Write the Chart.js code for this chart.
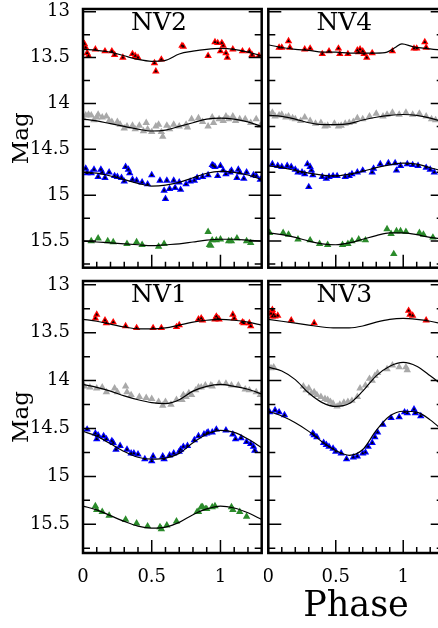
<!DOCTYPE html>
<html>
<head>
<meta charset="utf-8">
<script src="https://cdn.jsdelivr.net/npm/chart.js@4.4.0/dist/chart.umd.min.js"></script>
<style>
  html, body { margin: 0; padding: 0; background: #fff; overflow: hidden; }
  body { width: 438px; height: 628px; position: relative; }
  canvas { position: absolute; }
</style>
</head>
<body>
<canvas id="nv2"></canvas>
<canvas id="nv4"></canvas>
<canvas id="nv1"></canvas>
<canvas id="nv3"></canvas>
<script>
// tick values
const magMajor = [13, 13.5, 14, 14.5, 15, 15.5];
const magMinor = [13.25, 13.75, 14.25, 14.75, 15.25, 15.75];
const phaseMajor = [0, 0.5, 1];
const phaseMinor = [0.1, 0.2, 0.3, 0.4, 0.6, 0.7, 0.8, 0.9, 1.1, 1.2];

// NV2  [phase, mag]
const nv2Red = [[0.01,13.35],[0.02,13.39],[0.03,13.45],[0.04,13.48],[0.09,13.41],[0.16,13.43],[0.21,13.43],[0.23,13.47],[0.29,13.50],[0.36,13.46],[0.38,13.48],[0.40,13.50],[0.52,13.56],[0.53,13.65],[0.57,13.52],[0.72,13.37],[0.73,13.38],[0.91,13.48],[0.96,13.33],[0.98,13.34],[1.00,13.43],[1.01,13.34],[1.02,13.37],[1.04,13.45],[1.05,13.50],[1.09,13.41],[1.16,13.43],[1.21,13.43],[1.23,13.47],[1.28,13.48]];
const nv2RedFit = [[0,13.41],[0.1,13.42],[0.2,13.44],[0.3,13.48],[0.4,13.52],[0.5,13.54],[0.6,13.53],[0.7,13.46],[0.8,13.43],[0.9,13.41],[1.0,13.40],[1.1,13.41],[1.2,13.44],[1.3,13.48]];
const nv2Gray = [[0.00,14.16],[0.02,14.13],[0.04,14.12],[0.06,14.13],[0.08,14.18],[0.10,14.15],[0.11,14.12],[0.14,14.15],[0.17,14.14],[0.19,14.19],[0.21,14.20],[0.25,14.20],[0.27,14.23],[0.30,14.27],[0.32,14.25],[0.36,14.24],[0.38,14.28],[0.41,14.24],[0.44,14.30],[0.46,14.21],[0.47,14.28],[0.50,14.31],[0.53,14.25],[0.55,14.23],[0.57,14.31],[0.58,14.36],[0.61,14.24],[0.63,14.28],[0.66,14.23],[0.70,14.25],[0.75,14.23],[0.76,14.26],[0.79,14.17],[0.84,14.16],[0.87,14.20],[0.91,14.25],[0.94,14.15],[0.95,14.21],[0.99,14.17],[1.02,14.19],[1.04,14.14],[1.06,14.17],[1.09,14.14],[1.11,14.19],[1.14,14.17],[1.18,14.17],[1.22,14.21],[1.26,14.17],[1.29,14.24]];
const nv2GrayFit = [[0,14.17],[0.1,14.19],[0.2,14.22],[0.3,14.25],[0.4,14.28],[0.5,14.30],[0.6,14.29],[0.7,14.25],[0.8,14.21],[0.9,14.17],[1.0,14.16],[1.1,14.17],[1.2,14.20],[1.3,14.25]];
const nv2Blue = [[0.02,14.71],[0.03,14.76],[0.06,14.76],[0.08,14.72],[0.11,14.80],[0.13,14.72],[0.14,14.75],[0.16,14.81],[0.19,14.75],[0.23,14.79],[0.25,14.80],[0.28,14.81],[0.30,14.85],[0.31,14.69],[0.33,14.72],[0.34,14.76],[0.36,14.83],[0.39,14.84],[0.43,14.86],[0.47,14.88],[0.50,14.78],[0.56,14.84],[0.59,14.95],[0.60,15.04],[0.61,14.84],[0.63,14.93],[0.66,14.84],[0.67,14.92],[0.70,14.86],[0.71,14.94],[0.75,14.88],[0.78,14.85],[0.81,14.84],[0.83,14.81],[0.87,14.80],[0.91,14.78],[0.94,14.67],[0.95,14.68],[0.96,14.69],[0.98,14.79],[1.00,14.68],[1.02,14.73],[1.04,14.77],[1.07,14.75],[1.08,14.73],[1.12,14.81],[1.13,14.72],[1.14,14.75],[1.17,14.82],[1.19,14.75],[1.24,14.78],[1.26,14.79],[1.29,14.83]];
const nv2BlueFit = [[0,14.75],[0.1,14.76],[0.2,14.79],[0.3,14.83],[0.4,14.87],[0.5,14.90],[0.6,14.89],[0.7,14.86],[0.8,14.81],[0.9,14.76],[1.0,14.74],[1.1,14.75],[1.2,14.78],[1.3,14.83]];
const nv2Green = [[0.06,15.50],[0.11,15.47],[0.18,15.50],[0.22,15.51],[0.32,15.53],[0.39,15.51],[0.43,15.54],[0.55,15.56],[0.59,15.53],[0.91,15.40],[0.92,15.54],[0.93,15.55],[0.94,15.49],[0.97,15.49],[1.00,15.48],[1.06,15.50],[1.08,15.50],[1.12,15.47],[1.19,15.50],[1.22,15.52]];
const nv2GreenFit = [[0,15.50],[0.1,15.51],[0.2,15.52],[0.3,15.53],[0.4,15.54],[0.5,15.55],[0.6,15.54],[0.7,15.53],[0.8,15.51],[0.9,15.49],[1.0,15.48],[1.1,15.48],[1.2,15.49],[1.3,15.50]];

// NV4
const nv4Red = [[0.08,13.39],[0.10,13.39],[0.15,13.32],[0.16,13.39],[0.27,13.41],[0.31,13.40],[0.40,13.46],[0.45,13.43],[0.52,13.40],[0.53,13.46],[0.59,13.46],[0.66,13.42],[0.67,13.44],[0.68,13.41],[0.70,13.43],[0.71,13.46],[0.73,13.50],[0.77,13.45],[0.92,13.43],[1.08,13.40],[1.10,13.40],[1.16,13.33],[1.17,13.39]];
const nv4RedFit = [[0,13.36],[0.1,13.39],[0.2,13.41],[0.3,13.42],[0.4,13.44],[0.5,13.44],[0.6,13.45],[0.7,13.45],[0.8,13.45],[0.88,13.44],[0.94,13.39],[0.99,13.35],[1.07,13.38],[1.16,13.40],[1.3,13.42]];
const nv4Gray = [[0.01,14.12],[0.03,14.10],[0.05,14.14],[0.08,14.13],[0.10,14.12],[0.13,14.15],[0.15,14.14],[0.18,14.16],[0.20,14.17],[0.24,14.19],[0.27,14.15],[0.31,14.19],[0.35,14.22],[0.39,14.21],[0.42,14.25],[0.44,14.24],[0.49,14.22],[0.52,14.25],[0.54,14.24],[0.57,14.22],[0.60,14.21],[0.63,14.20],[0.66,14.16],[0.70,14.17],[0.75,14.14],[0.80,14.11],[0.85,14.14],[0.88,14.12],[0.92,14.10],[0.97,14.12],[1.02,14.10],[1.07,14.12],[1.12,14.11],[1.17,14.14],[1.21,14.17],[1.24,14.18]];
const nv4GrayFit = [[0,14.13],[0.1,14.14],[0.2,14.17],[0.3,14.21],[0.4,14.23],[0.5,14.23],[0.6,14.22],[0.7,14.18],[0.8,14.15],[0.9,14.13],[1.0,14.12],[1.1,14.13],[1.2,14.16],[1.3,14.20]];
const nv4Blue = [[0.03,14.66],[0.07,14.68],[0.10,14.69],[0.14,14.68],[0.17,14.69],[0.20,14.72],[0.22,14.75],[0.25,14.75],[0.27,14.77],[0.29,14.66],[0.30,14.91],[0.31,14.69],[0.32,14.73],[0.33,14.78],[0.40,14.80],[0.43,14.82],[0.45,14.80],[0.48,14.79],[0.51,14.79],[0.57,14.80],[0.60,14.79],[0.62,14.77],[0.66,14.75],[0.70,14.73],[0.77,14.75],[0.78,14.71],[0.83,14.66],[0.89,14.65],[0.94,14.65],[0.95,14.73],[0.98,14.68],[1.03,14.66],[1.07,14.67],[1.11,14.68],[1.17,14.70],[1.20,14.72],[1.23,14.75]];
const nv4BlueFit = [[0,14.68],[0.1,14.70],[0.2,14.73],[0.3,14.76],[0.4,14.78],[0.5,14.79],[0.6,14.77],[0.7,14.74],[0.8,14.70],[0.9,14.67],[1.0,14.65],[1.1,14.66],[1.2,14.70],[1.3,14.74]];
const nv4Green = [[0.01,15.41],[0.11,15.41],[0.15,15.43],[0.22,15.48],[0.31,15.49],[0.38,15.53],[0.44,15.54],[0.55,15.54],[0.59,15.53],[0.62,15.50],[0.67,15.48],[0.72,15.49],[0.88,15.37],[0.91,15.42],[0.93,15.64],[0.95,15.39],[0.98,15.39],[1.02,15.40],[1.12,15.41],[1.15,15.43],[1.22,15.46]];
const nv4GreenFit = [[0,15.41],[0.1,15.43],[0.2,15.46],[0.3,15.50],[0.4,15.53],[0.5,15.54],[0.6,15.52],[0.7,15.48],[0.8,15.44],[0.9,15.41],[1.0,15.41],[1.1,15.43],[1.2,15.46],[1.3,15.48]];

// NV1
const nv1Red = [[0.09,13.35],[0.10,13.31],[0.16,13.37],[0.17,13.40],[0.22,13.39],[0.31,13.43],[0.39,13.45],[0.51,13.45],[0.57,13.45],[0.68,13.44],[0.70,13.42],[0.84,13.36],[0.86,13.35],[0.87,13.37],[0.96,13.36],[0.97,13.33],[0.98,13.35],[0.99,13.36],[1.09,13.31],[1.10,13.35],[1.16,13.39],[1.17,13.40],[1.21,13.40],[1.22,13.43]];
const nv1RedFit = [[0,13.36],[0.1,13.38],[0.2,13.41],[0.3,13.44],[0.4,13.46],[0.5,13.46],[0.6,13.45],[0.7,13.42],[0.8,13.39],[0.9,13.37],[1.0,13.36],[1.1,13.37],[1.2,13.39],[1.3,13.42]];
const nv1Gray = [[0.01,14.06],[0.05,14.07],[0.10,14.08],[0.14,14.07],[0.17,14.12],[0.23,14.08],[0.25,14.12],[0.31,14.06],[0.32,14.12],[0.35,14.15],[0.41,14.17],[0.46,14.18],[0.50,14.19],[0.55,14.22],[0.58,14.26],[0.60,14.22],[0.64,14.25],[0.68,14.20],[0.72,14.20],[0.73,14.15],[0.75,14.17],[0.77,14.13],[0.79,14.15],[0.82,14.10],[0.84,14.07],[0.86,14.07],[0.89,14.05],[0.93,14.05],[0.94,14.06],[0.99,14.03],[1.04,14.03],[1.08,14.05],[1.13,14.05],[1.18,14.09],[1.21,14.10],[1.26,14.12],[1.29,14.15]];
const nv1GrayFit = [[0,14.04],[0.1,14.07],[0.2,14.11],[0.3,14.16],[0.4,14.20],[0.5,14.23],[0.6,14.24],[0.7,14.20],[0.8,14.11],[0.9,14.06],[1.0,14.04],[1.1,14.06],[1.2,14.09],[1.3,14.14]];
const nv1Blue = [[0.03,14.51],[0.09,14.55],[0.10,14.61],[0.11,14.57],[0.15,14.58],[0.17,14.61],[0.21,14.63],[0.22,14.65],[0.24,14.72],[0.27,14.68],[0.32,14.72],[0.35,14.76],[0.37,14.76],[0.40,14.77],[0.45,14.82],[0.50,14.84],[0.51,14.79],[0.58,14.79],[0.59,14.82],[0.63,14.78],[0.66,14.76],[0.70,14.74],[0.71,14.72],[0.73,14.69],[0.76,14.68],[0.81,14.62],[0.84,14.58],[0.88,14.56],[0.90,14.55],[0.91,14.54],[0.94,14.54],[0.97,14.51],[1.04,14.52],[1.09,14.56],[1.11,14.61],[1.15,14.60],[1.19,14.64],[1.22,14.66],[1.24,14.69],[1.25,14.73]];
const nv1BlueFit = [[0,14.53],[0.1,14.58],[0.2,14.66],[0.3,14.74],[0.4,14.80],[0.5,14.82],[0.6,14.81],[0.7,14.76],[0.8,14.65],[0.9,14.56],[1.0,14.52],[1.1,14.54],[1.2,14.61],[1.3,14.70]];
const nv1Green = [[0.09,15.31],[0.10,15.35],[0.14,15.37],[0.19,15.41],[0.31,15.45],[0.39,15.49],[0.47,15.52],[0.56,15.53],[0.57,15.55],[0.61,15.51],[0.68,15.47],[0.83,15.37],[0.84,15.37],[0.86,15.32],[0.87,15.32],[0.89,15.34],[0.90,15.34],[0.94,15.32],[0.96,15.31],[1.08,15.32],[1.09,15.35],[1.14,15.37],[1.19,15.42]];
const nv1GreenFit = [[0,15.31],[0.1,15.35],[0.2,15.41],[0.3,15.47],[0.4,15.52],[0.5,15.54],[0.6,15.53],[0.7,15.48],[0.8,15.40],[0.9,15.34],[1.0,15.31],[1.1,15.33],[1.2,15.38],[1.3,15.45]];

// NV3
const nv3Red = [[0.02,13.30],[0.03,13.26],[0.03,13.33],[0.04,13.31],[0.05,13.33],[0.07,13.32],[0.17,13.37],[0.34,13.40],[1.04,13.27],[1.05,13.31],[1.07,13.32],[1.17,13.37]];
const nv3RedFit = [[0,13.36],[0.1,13.38],[0.2,13.40],[0.3,13.42],[0.4,13.44],[0.5,13.45],[0.6,13.45],[0.7,13.43],[0.8,13.39],[0.9,13.36],[1.0,13.35],[1.1,13.36],[1.2,13.38],[1.3,13.41]];
const nv3Gray = [[0.02,13.87],[0.04,13.86],[0.26,14.06],[0.28,14.10],[0.30,14.08],[0.32,14.13],[0.34,14.12],[0.36,14.15],[0.39,14.17],[0.42,14.19],[0.44,14.20],[0.46,14.22],[0.48,14.24],[0.51,14.27],[0.53,14.25],[0.56,14.23],[0.59,14.22],[0.62,14.21],[0.66,14.17],[0.68,14.08],[0.72,14.05],[0.75,13.98],[0.77,14.00],[0.79,13.95],[0.81,13.92],[0.88,13.88],[0.92,13.84],[0.97,13.86],[1.02,13.86],[1.03,13.89]];
const nv3GrayFit = [[0,13.86],[0.1,13.90],[0.2,13.99],[0.3,14.13],[0.4,14.23],[0.5,14.27],[0.6,14.24],[0.7,14.11],[0.8,13.95],[0.9,13.85],[1.0,13.81],[1.1,13.85],[1.2,13.95],[1.3,14.06]];
const nv3Blue = [[0.01,14.33],[0.05,14.31],[0.08,14.33],[0.12,14.36],[0.33,14.55],[0.34,14.57],[0.36,14.59],[0.41,14.65],[0.43,14.67],[0.45,14.69],[0.48,14.71],[0.50,14.74],[0.54,14.76],[0.58,14.82],[0.63,14.80],[0.66,14.79],[0.70,14.76],[0.72,14.75],[0.74,14.69],[0.77,14.65],[0.79,14.59],[0.81,14.54],[0.85,14.46],[0.91,14.39],[0.97,14.38],[1.01,14.33],[1.03,14.34],[1.08,14.30],[1.09,14.34],[1.13,14.37]];
const nv3BlueFit = [[0,14.32],[0.1,14.37],[0.2,14.44],[0.3,14.53],[0.4,14.64],[0.5,14.73],[0.6,14.78],[0.7,14.72],[0.8,14.52],[0.9,14.37],[1.0,14.32],[1.1,14.33],[1.2,14.41],[1.3,14.53]];

const RED = '#ff0000', GRAY = '#a9a9a9', BLUE = '#0000ff', GREEN = '#2b8b2b';
const serif = '"DejaVu Serif", "Liberation Serif", serif';

function series(points, fit, color, core) {
    const pts = points.map(p => ({ x: p[0], y: p[1] }));
    const sets = [{
        data: pts, pointStyle: 'triangle', pointRadius: 4.3,
        backgroundColor: color, borderWidth: 0, order: 3
    }];
    if (core) {
        sets.push({
            data: pts, pointStyle: 'triangle', pointRadius: 1.8,
            backgroundColor: '#000', borderWidth: 0, order: 2
        });
    }
    sets.push({
        data: fit.map(p => ({ x: p[0], y: p[1] })), showLine: true, pointRadius: 0,
        borderColor: '#000', borderWidth: 1.2, cubicInterpolationMode: 'monotone', order: 1
    });
    return sets;
}

// frame, inward ticks and panel name
const framePlugin = {
    id: 'panelFrame',
    afterDatasetsDraw(chart, args, opts) {
        const { ctx, chartArea: a } = chart;
        const x = chart.scales.x, y = chart.scales.y;
        ctx.save();
        ctx.strokeStyle = '#000';
        ctx.lineWidth = 1.5;
        ctx.beginPath();
        magMajor.concat(magMinor).forEach(v => {
            const len = magMajor.includes(v) ? 13 : 7;
            const py = y.getPixelForValue(v);
            ctx.moveTo(a.left, py); ctx.lineTo(a.left + len, py);
            ctx.moveTo(a.right, py); ctx.lineTo(a.right - len, py);
        });
        phaseMajor.concat(phaseMinor).forEach(v => {
            const len = phaseMajor.includes(v) ? 13 : 6;
            const px = x.getPixelForValue(v);
            ctx.moveTo(px, a.bottom); ctx.lineTo(px, a.bottom - len);
        });
        ctx.stroke();
        ctx.lineWidth = 2.5;
        ctx.strokeRect(a.left, a.top, a.right - a.left, a.bottom - a.top);
        ctx.fillStyle = '#000';
        ctx.font = '25px ' + serif;
        ctx.textAlign = 'center';
        ctx.textBaseline = 'middle';
        ctx.fillText(opts.label, a.left + 76, a.top + 14);
        ctx.restore();
    }
};

function makePanel(id, box, label, sets, o) {
    const cv = document.getElementById(id);
    cv.width = box.w; cv.height = box.h;
    cv.style.left = box.x + 'px'; cv.style.top = box.y + 'px';
    new Chart(cv, {
        type: 'scatter',
        data: { datasets: sets },
        options: {
            responsive: false, animation: false, events: [],
            layout: { padding: box.pad },
            plugins: { legend: { display: false }, tooltip: { enabled: false }, panelFrame: { label: label } },
            scales: {
                x: {
                    type: 'linear', min: 0, max: 1.3, display: o.xLabels,
                    grid: { display: false, drawTicks: false }, border: { display: false },
                    afterBuildTicks: s => { s.ticks = phaseMajor.map(v => ({ value: v })); },
                    afterFit: s => { s.height = o.xLabels ? 75 : 0; s.paddingLeft = 0; s.paddingRight = 0; },
                    ticks: { color: '#000', font: { family: serif, size: 18 }, padding: 14, maxRotation: 0, autoSkip: false, callback: v => String(v) },
                    title: { display: o.phaseTitle, text: 'Phase', color: '#000', font: { family: serif, size: 35 }, padding: { top: 0, bottom: 0 } }
                },
                y: {
                    type: 'linear', reverse: true, min: o.ymin, max: o.ymax, display: o.yLabels,
                    grid: { display: false, drawTicks: false }, border: { display: false },
                    afterBuildTicks: s => { s.ticks = magMajor.map(v => ({ value: v })); },
                    afterFit: s => { s.width = o.yLabels ? 83 : 0; s.paddingTop = 0; s.paddingBottom = 0; },
                    ticks: { color: '#000', font: { family: serif, size: 18 }, padding: 13, autoSkip: false, callback: v => String(v) },
                    title: { display: true, text: 'Mag', color: '#000', font: { family: serif, size: 23 }, padding: { top: 8, bottom: 0 } }
                }
            }
        },
        plugins: [framePlugin]
    });
}

makePanel('nv2', { x: 0, y: 0, w: 266, h: 272, pad: { top: 9, right: 3, bottom: 2, left: 0 } }, 'NV2',
    [].concat(series(nv2Red, nv2RedFit, RED, true), series(nv2Gray, nv2GrayFit, GRAY, false),
        series(nv2Blue, nv2BlueFit, BLUE, true), series(nv2Green, nv2GreenFit, GREEN, false)),
    { xLabels: false, phaseTitle: false, yLabels: true, ymin: 12.97, ymax: 15.79 });

makePanel('nv4', { x: 264, y: 0, w: 184, h: 272, pad: { top: 9, right: 3, bottom: 2, left: 2 } }, 'NV4',
    [].concat(series(nv4Red, nv4RedFit, RED, true), series(nv4Gray, nv4GrayFit, GRAY, false),
        series(nv4Blue, nv4BlueFit, BLUE, true), series(nv4Green, nv4GreenFit, GREEN, false)),
    { xLabels: false, phaseTitle: false, yLabels: false, ymin: 12.97, ymax: 15.79 });

makePanel('nv1', { x: 0, y: 272, w: 266, h: 356, pad: { top: 9, right: 3, bottom: 0, left: 0 } }, 'NV1',
    [].concat(series(nv1Red, nv1RedFit, RED, true), series(nv1Gray, nv1GrayFit, GRAY, false),
        series(nv1Blue, nv1BlueFit, BLUE, true), series(nv1Green, nv1GreenFit, GREEN, false)),
    { xLabels: true, phaseTitle: false, yLabels: true, ymin: 12.96, ymax: 15.80 });

makePanel('nv3', { x: 264, y: 272, w: 184, h: 356, pad: { top: 9, right: 3, bottom: 0, left: 2 } }, 'NV3',
    [].concat(series(nv3Red, nv3RedFit, RED, true), series(nv3Gray, nv3GrayFit, GRAY, false),
        series(nv3Blue, nv3BlueFit, BLUE, true)),
    { xLabels: true, phaseTitle: true, yLabels: false, ymin: 12.96, ymax: 15.80 });
</script>
</body>
</html>
